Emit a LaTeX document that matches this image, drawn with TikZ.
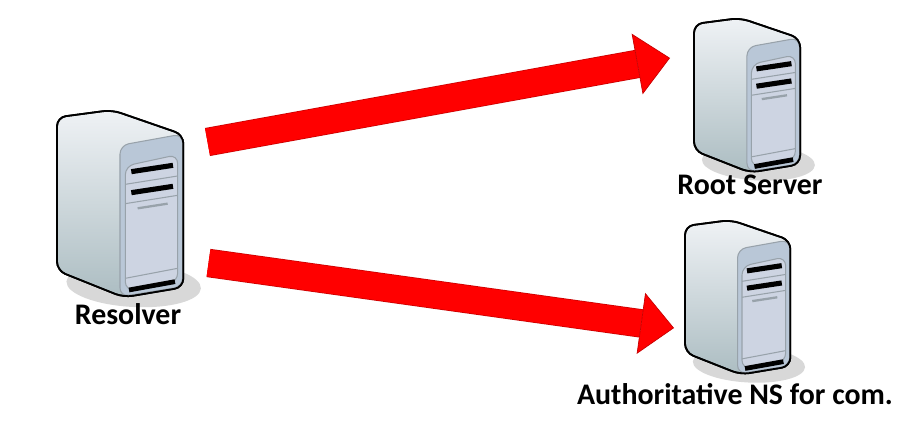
\documentclass[tikz,border=0pt]{standalone}
\usepackage{fontspec}
\setmainfont{Carlito}
\usetikzlibrary{arrows.meta}
\definecolor{caseTop}{HTML}{EFF2F5}
\definecolor{caseBottom}{HTML}{ACBDC2}
\definecolor{panelBlue}{HTML}{B9C7D7}
\definecolor{panelInner}{HTML}{CDD4E2}
\definecolor{panelEdge}{HTML}{98A2AA}
\definecolor{floorShadow}{HTML}{D8D8D8}
\definecolor{arrowEdge}{HTML}{C80000}

\begin{document}
\begin{tikzpicture}[x=0.02cm, y=-0.02cm, font=\bfseries\fontsize{17}{20}\selectfont]
        % Setup the styles
        \tikzset{big arrow/.style={draw=arrowEdge,
                                   line width=0.4pt,
                                   double=red,
                                   double distance=15.4pt,
                                   -{Triangle[length=19pt, width=35pt, fill=red, line width=0.4pt]}}}
        \tikzset{server label/.style={inner sep=0pt, text=black}}
        \tikzset{pics/server/.style={code={
            % shadow on the floor
            \fill[floorShadow, rotate around={-3:(230,525)}] (230,525) ellipse [x radius=202, y radius=66];
            % case
            \draw[rounded corners=5pt, top color=caseTop, bottom color=caseBottom, line width=1pt]
                (0,22) -- (165,0) -- (379,74) -- (379,532) -- (200,562) -- (0,482) -- cycle;
            % front panel
            \draw[rounded corners=5pt, fill=panelBlue, draw=panelEdge, line width=0.6pt]
                (189,560) -- (189,106) -- (377,72) -- (377,530) -- cycle;
            \draw[rounded corners=5pt, fill=panelInner, draw=panelEdge, line width=0.6pt]
                (205,542) -- (205,168) -- (362,134) -- (362,516) -- cycle;
            \draw[panelEdge, line width=0.6pt] (205,223) -- (362,198);
            \draw[panelEdge, line width=0.6pt] (205,281) -- (362,256);
            \draw[panelEdge, line width=0.6pt] (205,505) -- (362,475);
            % slots
            \draw[line width=2.9pt] (223,185) -- (348,166);
            \draw[line width=2.9pt] (223,248) -- (348,229);
            \draw[line width=2.7pt] (216,540) -- (354,515);
            \draw[panelEdge, line width=1.3pt] (242,295) -- (332,281);
            % outline again on top of the panel
            \draw[rounded corners=5pt, line width=1pt]
                (0,22) -- (165,0) -- (379,74) -- (379,532) -- (200,562) -- (0,482) -- cycle;
        }}}

        % Fix the page
        \useasboundingbox (0,0) rectangle (923,442);

        % Draw the servers
        \pic (resolver) at (57,110) [scale=0.3333] {server};
        \pic (root) at (694,18) [xscale=0.28, yscale=0.275] {server};
        \pic (auth) at (685,220) [xscale=0.278, yscale=0.275] {server};

        % Draw the labels
        \node[server label] at (128,314) (resolverLabel) {Resolver};
        \node[server label] at (750,185) (rootLabel) {Root Server};
        \node[server label] at (735,394) (authLabel) {Authoritative NS for com.};

        % Ends of the arrows
        \coordinate (resolverTop) at (207.5,142);
        \coordinate (rootIn) at (670,58);
        \coordinate (resolverLow) at (208.5,263);
        \coordinate (authIn) at (674,328);

        % Connect the servers with arrows
        \draw[big arrow] (resolverTop) -- (rootIn);
        \draw[big arrow] (resolverLow) -- (authIn);
\end{tikzpicture}
\end{document}
